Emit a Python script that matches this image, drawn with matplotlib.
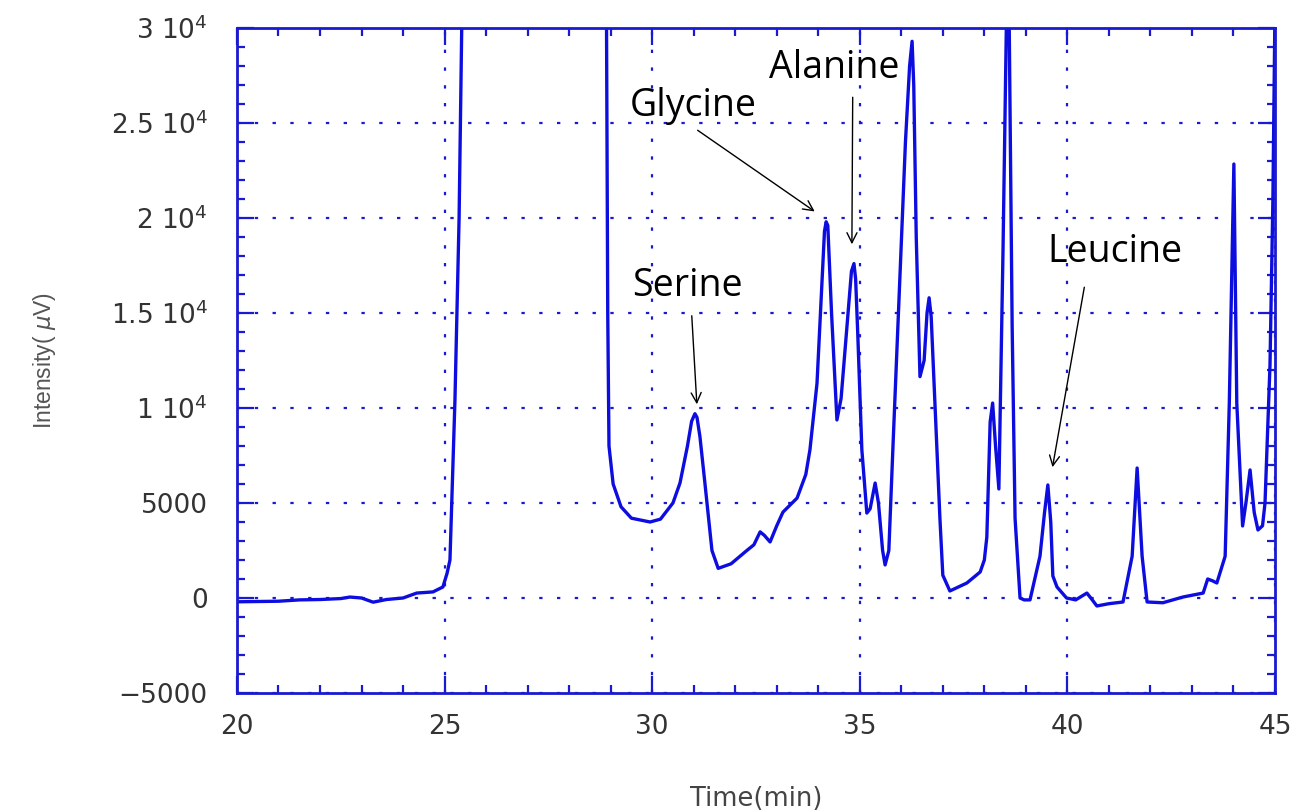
import numpy as np
import matplotlib.pyplot as plt
from matplotlib.ticker import MultipleLocator, FixedLocator

# chromatogram trace (time in min, intensity in uV)
time_min = [20.0, 21.0, 21.5, 22.0, 22.5, 22.72, 23.0, 23.28, 23.6, 24.0, 24.33, 24.72,
            24.96, 25.06, 25.13, 25.25, 25.35, 25.42, 25.5,
            28.85, 28.9, 28.93, 28.96, 29.06, 29.25, 29.5, 29.95, 30.2, 30.5, 30.67,
            30.85, 30.95, 31.03, 31.08, 31.15, 31.27, 31.44, 31.59, 31.9, 32.28, 32.45,
            32.6, 32.7, 32.84, 33.0, 33.15, 33.49, 33.7, 33.8, 33.97, 34.1, 34.15,
            34.19, 34.23, 34.32, 34.45, 34.55, 34.7, 34.8, 34.86, 34.9, 34.95, 35.05,
            35.17, 35.25, 35.37, 35.45, 35.55, 35.61, 35.7, 35.8, 35.95, 36.1, 36.2,
            36.26, 36.3, 36.36, 36.45, 36.55, 36.62, 36.67, 36.72, 36.77, 36.93, 37.0,
            37.17, 37.58, 37.9, 38.0, 38.06, 38.14, 38.2, 38.27, 38.35, 38.45, 38.55,
            38.6, 38.67, 38.74, 38.86, 38.96, 39.1, 39.34, 39.45, 39.53, 39.6, 39.65,
            39.75, 39.98, 40.2, 40.47, 40.6, 40.71, 41.0, 41.34, 41.56, 41.68, 41.8,
            41.92, 42.3, 42.78, 43.27, 43.38, 43.5, 43.6, 43.8, 43.9, 44.01, 44.08,
            44.22, 44.3, 44.4, 44.5, 44.59, 44.7, 44.76, 44.88, 44.95, 45.0]
intensity = [-200, -170, -100, -80, -30, 50, 0, -220, -80, 0, 260, 320,
             580, 1300, 2000, 10400, 20000, 31000, 45000,
             45000, 30500, 15000, 8000, 6000, 4800, 4200, 4000, 4150, 5000, 6050,
             8000, 9300, 9700, 9500, 8500, 6050, 2500, 1560, 1800, 2500, 2800,
             3480, 3300, 2950, 3800, 4520, 5260, 6500, 7800, 11300, 17000, 19300,
             19800, 19600, 15000, 9370, 10500, 14500, 17200, 17600, 16800, 14000, 7800,
             4470, 4700, 6050, 5000, 2500, 1740, 2500, 8000, 16000, 24000, 28000,
             29300, 27000, 19000, 11650, 12500, 15000, 15800, 14800, 12260, 4200, 1200,
             370, 790, 1370, 2000, 3200, 9260, 10260, 8000, 5740, 18300, 33000,
             30000, 14300, 4200, 0, -100, -100, 2200, 4500, 5950, 4000, 1160,
             580, 0, -100, 260, -100, -420, -300, -210, 2200, 6840, 2200,
             -210, -250, 50, 260, 1000, 900, 790, 2200, 10260, 22840, 10260,
             3790, 5000, 6740, 4500, 3580, 3800, 5000, 12260, 21000, 31000]

# peak labels: text position and arrow tip (data coords)
peak_names = ["Serine", "Glycine", "Alanine", "Leucine"]
label_xy = [(30.86, 16400), (30.99, 25900), (34.39, 27900), (41.15, 18200)]
arrow_from = [(30.95, 15000), (31.04, 24700), (34.83, 26500), (40.42, 16500)]
arrow_to = [(31.08, 10050), (33.97, 20260), (34.81, 18470), (39.63, 6740)]

y_ticks = [-5000, 0, 5000, 10000, 15000, 20000, 25000, 30000]
y_ticklabels = ["\u22125000", "0", "5000", r"1 10$^{4}$", r"1.5 10$^{4}$",
                r"2 10$^{4}$", r"2.5 10$^{4}$", r"3 10$^{4}$"]
x_ticks = [20, 25, 30, 35, 40, 45]

blue = "#1a1ad0"
line_blue = "#0d0de0"

fig = plt.figure(figsize=(13.07, 8.11), dpi=100)
ax = fig.add_axes([0.1813, 0.1455, 0.7942, 0.82])

ax.plot(time_min, intensity, color=line_blue, lw=2.4)

ax.set_xlim(20, 45)
ax.set_ylim(-5000, 30000)

ax.xaxis.set_major_locator(FixedLocator(x_ticks))
ax.xaxis.set_minor_locator(MultipleLocator(1))
ax.yaxis.set_major_locator(FixedLocator(y_ticks))
ax.yaxis.set_minor_locator(MultipleLocator(1000))
ax.set_xticklabels([str(v) for v in x_ticks])
ax.set_yticklabels(y_ticklabels)

ax.tick_params(which="both", direction="in", top=True, right=True, color=blue,
               width=1.6, labelcolor="#333333", labelsize=19)
ax.tick_params(which="major", length=12)
ax.tick_params(which="minor", length=6)
ax.tick_params(axis="x", pad=15)
ax.tick_params(axis="y", pad=21)

for s in ax.spines.values():
    s.set_color(blue)
    s.set_linewidth(2)

ax.grid(which="major", color=blue, linestyle=(0, (1.5, 6.5)), lw=1.6)

ax.set_xlabel("Time(min)", fontsize=18.5, color="#444444", labelpad=33)
ax.set_ylabel(r"Intensity( $\mu$V)", fontsize=16.5, color="#555555", labelpad=38,
              family="Liberation Sans")

for name, lxy, a0, a1 in zip(peak_names, label_xy, arrow_from, arrow_to):
    ax.text(lxy[0], lxy[1], name, fontsize=27, family="Open Sans",
            ha="center", va="center", color="black")
    ax.annotate("", xy=a1, xytext=a0,
                arrowprops=dict(arrowstyle="->", color="black", lw=1,
                                mutation_scale=18))

fig.savefig("out.png", dpi=100)
